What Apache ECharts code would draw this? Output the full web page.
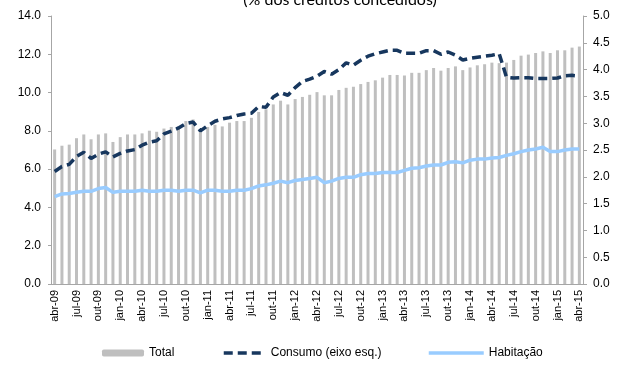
<!DOCTYPE html>
<html>
<head>
<meta charset="utf-8">
<script src="https://cdn.jsdelivr.net/npm/echarts@6/dist/echarts.min.js"></script>
<style>
  html, body { margin: 0; padding: 0; background: #fff; }
  #chart { width: 622px; height: 367px; }
</style>
</head>
<body>
<div id="chart"></div>
<script>
// Month abbreviations and years used to build the monthly category axis (abr-09 .. abr-15)
const monthNames = ['jan', 'fev', 'mar', 'abr', 'mai', 'jun', 'jul', 'ago', 'set', 'out', 'nov', 'dez'];
const startYear = 2009, startMonth = 3, monthCount = 73;

// Total (right axis, bars)
const totalValues = [
  2.51, 2.58, 2.60, 2.72, 2.79, 2.70, 2.79, 2.81, 2.65, 2.74, 2.79, 2.79,
  2.81, 2.86, 2.84, 2.90, 2.93, 2.93, 3.04, 3.07, 2.88, 2.93, 2.97, 2.94,
  3.01, 3.04, 3.04, 3.10, 3.21, 3.26, 3.35, 3.42, 3.35, 3.45, 3.49, 3.53,
  3.58, 3.52, 3.52, 3.62, 3.66, 3.68, 3.73, 3.77, 3.80, 3.85, 3.90, 3.90,
  3.89, 3.94, 3.94, 3.99, 4.03, 3.98, 4.03, 4.06, 3.99, 4.04, 4.08, 4.10,
  4.13, 4.12, 4.13, 4.18, 4.26, 4.28, 4.31, 4.34, 4.31, 4.36, 4.36, 4.41,
  4.43
];

// Consumo (left axis, dashed line)
const consumoValues = [
  5.88, 6.14, 6.25, 6.66, 6.88, 6.56, 6.78, 6.90, 6.64, 6.82, 6.95, 7.02,
  7.25, 7.41, 7.48, 7.84, 7.99, 8.15, 8.38, 8.46, 8.00, 8.27, 8.50, 8.62,
  8.69, 8.80, 8.88, 8.92, 9.27, 9.23, 9.77, 10.00, 9.86, 10.26, 10.58, 10.70,
  10.85, 11.10, 10.96, 11.20, 11.55, 11.43, 11.69, 11.90, 12.03, 12.12, 12.21, 12.21,
  12.05, 12.05, 12.05, 12.19, 12.19, 12.00, 12.12, 11.95, 11.70, 11.79, 11.85, 11.90,
  11.95, 12.03, 10.80, 10.76, 10.78, 10.78, 10.74, 10.74, 10.74, 10.76, 10.88, 10.90,
  10.86
];

// Habitação (right axis, solid line)
const habitacaoValues = [
  1.63, 1.68, 1.69, 1.71, 1.73, 1.73, 1.78, 1.80, 1.71, 1.73, 1.73, 1.73,
  1.75, 1.73, 1.73, 1.75, 1.75, 1.73, 1.75, 1.75, 1.70, 1.75, 1.75, 1.73,
  1.73, 1.75, 1.75, 1.78, 1.83, 1.85, 1.88, 1.92, 1.89, 1.93, 1.95, 1.97,
  1.99, 1.89, 1.92, 1.97, 1.99, 1.99, 2.04, 2.06, 2.06, 2.08, 2.08, 2.08,
  2.12, 2.16, 2.17, 2.20, 2.22, 2.22, 2.27, 2.28, 2.26, 2.31, 2.33, 2.33,
  2.35, 2.36, 2.40, 2.43, 2.47, 2.50, 2.52, 2.55, 2.47, 2.47, 2.50, 2.52,
  2.52
];

// Axis scales
const leftAxis = { min: 0, max: 14, interval: 2 };
const rightAxis = { min: 0, max: 5, interval: 0.5 };

const categories = [];
for (let k = 0; k < monthCount; k++) {
  const m = (startMonth + k) % 12;
  const y = startYear + Math.floor((startMonth + k) / 12);
  categories.push(monthNames[m] + '-' + String(y % 100).padStart(2, '0'));
}

const axisGray = '#a6a6a6';
const fontFamily = '"Liberation Sans", Arial, sans-serif';
const legendText = { fontSize: 12, fontFamily: fontFamily, color: '#000' };

const chart = echarts.init(document.getElementById('chart'), null, { renderer: 'canvas' });

chart.setOption({
  animation: false,
  backgroundColor: '#ffffff',
  textStyle: { fontFamily: fontFamily, color: '#000' },
  graphic: [{
    type: 'text',
    x: 340,
    y: 8,
    style: {
      text: '(% dos créditos concedidos)',
      font: '16px Lato, "Open Sans", sans-serif',
      fill: '#000',
      textAlign: 'center',
      textVerticalAlign: 'bottom'
    }
  }],
  legend: [
    {
      data: ['Total'], left: 97, top: 342, itemWidth: 42, itemHeight: 7,
      textStyle: legendText
    },
    {
      data: ['Consumo (eixo esq.)'], left: 217, top: 342, itemWidth: 42, itemHeight: 10,
      itemStyle: { opacity: 0 },
      lineStyle: { width: 3.5 },
      textStyle: legendText
    },
    {
      data: ['Habitação'], left: 422, top: 342, itemWidth: 55, itemHeight: 10,
      itemStyle: { opacity: 0 },
      lineStyle: { width: 3.5 },
      textStyle: legendText
    }
  ],
  grid: { left: 51, right: 39, top: 16, bottom: 83, containLabel: false },
  xAxis: {
    type: 'category',
    data: categories,
    boundaryGap: true,
    axisLine: { lineStyle: { color: axisGray, width: 1 } },
    axisTick: { show: false },
    axisLabel: {
      interval: 2,
      rotate: 90,
      margin: 6,
      fontSize: 11,
      color: '#000',
      fontFamily: fontFamily
    },
    splitLine: { show: false }
  },
  yAxis: [
    {
      type: 'value',
      position: 'left',
      min: leftAxis.min, max: leftAxis.max, interval: leftAxis.interval,
      axisLine: { show: true, lineStyle: { color: axisGray } },
      axisTick: { show: true, length: 3, lineStyle: { color: axisGray } },
      axisLabel: {
        formatter: v => v.toFixed(1), fontSize: 12, margin: 10,
        color: '#000', fontFamily: fontFamily
      },
      splitLine: { show: false }
    },
    {
      type: 'value',
      position: 'right',
      min: rightAxis.min, max: rightAxis.max, interval: rightAxis.interval,
      axisLine: { show: true, lineStyle: { color: axisGray } },
      axisTick: { show: true, length: 4, lineStyle: { color: axisGray } },
      axisLabel: {
        formatter: v => v.toFixed(1), fontSize: 12, margin: 10,
        color: '#000', fontFamily: fontFamily
      },
      splitLine: { show: false }
    }
  ],
  series: [
    {
      name: 'Total',
      type: 'bar',
      yAxisIndex: 1,
      data: totalValues,
      barWidth: 3,
      itemStyle: { color: '#bfbfbf' }
    },
    {
      name: 'Consumo (eixo esq.)',
      type: 'line',
      yAxisIndex: 0,
      data: consumoValues,
      symbol: 'none',
      lineStyle: { color: '#17375e', width: 3.5, type: [9, 5] },
      itemStyle: { color: '#17375e' }
    },
    {
      name: 'Habitação',
      type: 'line',
      yAxisIndex: 1,
      data: habitacaoValues,
      symbol: 'none',
      lineStyle: { color: '#99ccff', width: 3.5 },
      itemStyle: { color: '#99ccff' }
    }
  ]
});
</script>
</body>
</html>
